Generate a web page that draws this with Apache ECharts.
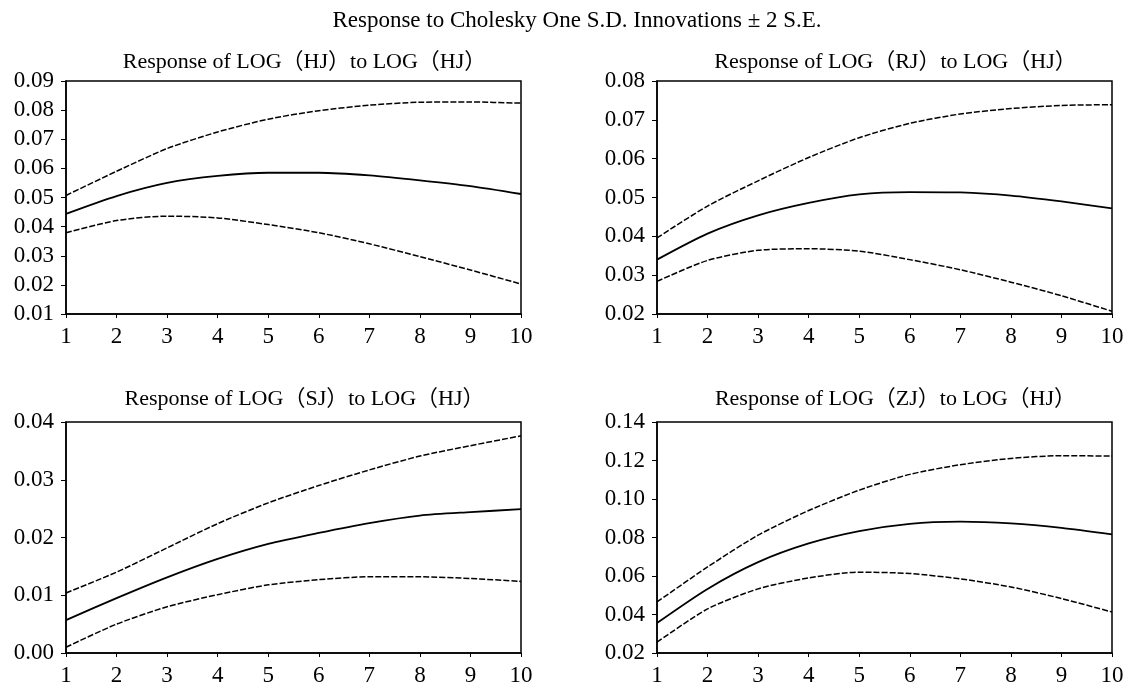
<!DOCTYPE html>
<html>
<head>
<meta charset="utf-8">
<script src="https://cdn.jsdelivr.net/npm/echarts@6/dist/echarts.min.js"></script>
<style>
  html, body { margin: 0; padding: 0; background: #fff; }
  #main { width: 1134px; height: 687px; }
</style>
</head>
<body>
<div id="main"></div>
<script>
// periods
var periods = [1, 2, 3, 4, 5, 6, 7, 8, 9, 10];

// Response of LOG(HJ) to LOG(HJ)
var hjUpper = [0.0507, 0.0590, 0.0668, 0.0725, 0.0769, 0.0798, 0.0817, 0.0827, 0.0828, 0.0824];
var hjResp  = [0.0444, 0.0505, 0.0550, 0.0574, 0.0585, 0.0585, 0.0576, 0.0559, 0.0539, 0.0512];
var hjLower = [0.0379, 0.0421, 0.0436, 0.0430, 0.0407, 0.0379, 0.0341, 0.0297, 0.0251, 0.0203];

// Response of LOG(RJ) to LOG(HJ)
var rjUpper = [0.0396, 0.0478, 0.0543, 0.0603, 0.0654, 0.0691, 0.0715, 0.0729, 0.0737, 0.0739];
var rjResp  = [0.0340, 0.0407, 0.0454, 0.0486, 0.0508, 0.0514, 0.0513, 0.0505, 0.0490, 0.0472];
var rjLower = [0.0284, 0.0338, 0.0364, 0.0368, 0.0362, 0.0340, 0.0314, 0.0282, 0.0247, 0.0207];

// Response of LOG(SJ) to LOG(HJ)
var sjUpper = [0.0104, 0.0140, 0.0182, 0.0224, 0.0260, 0.0290, 0.0317, 0.0341, 0.0359, 0.0376];
var sjResp  = [0.0057, 0.0095, 0.0131, 0.0163, 0.0189, 0.0208, 0.0225, 0.0238, 0.0244, 0.0249];
var sjLower = [0.0010, 0.0050, 0.0080, 0.0101, 0.0118, 0.0127, 0.0132, 0.0132, 0.0129, 0.0124];

// Response of LOG(ZJ) to LOG(HJ)
var zjUpper = [0.0465, 0.0647, 0.0812, 0.0940, 0.1046, 0.1128, 0.1178, 0.1211, 0.1225, 0.1223];
var zjResp  = [0.0356, 0.0533, 0.0672, 0.0769, 0.0833, 0.0871, 0.0882, 0.0873, 0.0850, 0.0816];
var zjLower = [0.0256, 0.0429, 0.0533, 0.0590, 0.0620, 0.0613, 0.0585, 0.0543, 0.0483, 0.0413];

var mainTitle = "Response to Cholesky One S.D. Innovations ± 2 S.E.";
var panelTitles = [
  "Response of LOG（HJ）to LOG（HJ）",
  "Response of LOG（RJ）to LOG（HJ）",
  "Response of LOG（SJ）to LOG（HJ）",
  "Response of LOG（ZJ）to LOG（HJ）"
];
// y axis ranges [min, max, interval]
var yRanges = [
  [0.01, 0.09, 0.01],
  [0.02, 0.08, 0.01],
  [0.00, 0.04, 0.01],
  [0.02, 0.14, 0.02]
];
var panels = [
  [hjUpper, hjResp, hjLower],
  [rjUpper, rjResp, rjLower],
  [sjUpper, sjResp, sjLower],
  [zjUpper, zjResp, zjLower]
];

var font = "'Liberation Serif', 'Times New Roman', 'Noto Sans CJK SC', serif";
var grids = [
  { left: 66, top: 81, width: 455, height: 233 },
  { left: 657, top: 81, width: 455, height: 233 },
  { left: 66, top: 422, width: 455, height: 231 },
  { left: 657, top: 422, width: 455, height: 231 }
];
var titleY = [46, 46, 383, 383];

function pairs(arr) {
  return periods.map(function (p, i) { return [p, arr[i]]; });
}

var titles = [{
  text: mainTitle,
  left: 572, top: 4, textAlign: "center",
  textStyle: { fontFamily: font, fontWeight: "normal", fontSize: 23, color: "#000" }
}];
var xAxes = [], yAxes = [], series = [];

grids.forEach(function (g, k) {
  g.show = true;
  g.borderColor = "#000";
  g.borderWidth = 1.5;
  titles.push({
    text: panelTitles[k],
    left: g.left + g.width / 2 + 6, top: titleY[k], textAlign: "center",
    textStyle: { fontFamily: font, fontWeight: "normal", fontSize: 22, color: "#000" }
  });
  xAxes.push({
    type: "value", gridIndex: k, min: 1, max: 10, interval: 1,
    axisLine: { show: true, lineStyle: { color: "#000", width: 1.5 } },
    axisTick: { show: true, inside: false, length: 4, lineStyle: { color: "#000" } },
    axisLabel: { fontFamily: font, fontSize: 23, color: "#000", margin: 11 },
    splitLine: { show: false }
  });
  var r = yRanges[k];
  yAxes.push({
    type: "value", gridIndex: k, min: r[0], max: r[1], interval: r[2],
    axisLine: { show: true, lineStyle: { color: "#000", width: 1.5 } },
    axisTick: { show: true, inside: false, length: 5, lineStyle: { color: "#000" } },
    axisLabel: {
      fontFamily: font, fontSize: 23, color: "#000", margin: 12,
      formatter: function (v) { return v.toFixed(2); }
    },
    splitLine: { show: false }
  });
  panels[k].forEach(function (arr, j) {
    series.push({
      type: "line", xAxisIndex: k, yAxisIndex: k,
      data: pairs(arr), showSymbol: false, smooth: 0.25,
      lineStyle: { color: "#000", width: j === 1 ? 1.8 : 1.5, type: j === 1 ? "solid" : [6, 2] },
      silent: true, animation: false
    });
  });
});

var chart = echarts.init(document.getElementById("main"));
chart.setOption({
  animation: false,
  title: titles,
  grid: grids,
  xAxis: xAxes,
  yAxis: yAxes,
  series: series
});
</script>
</body>
</html>
